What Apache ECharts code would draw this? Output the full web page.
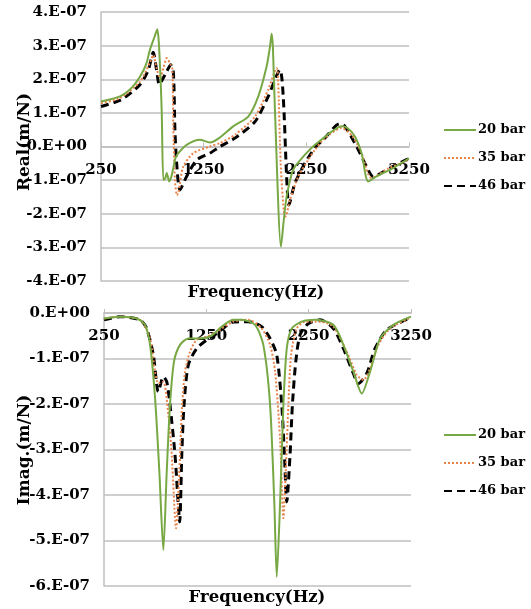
<!DOCTYPE html>
<html>
<head>
<meta charset="utf-8">
<script src="https://cdn.jsdelivr.net/npm/echarts@6/dist/echarts.min.js"></script>
<style>
  html, body { margin: 0; padding: 0; background: #fff; }
  #chart { width: 531px; height: 609px; }
</style>
</head>
<body>
<div id="chart"></div>
<script>
// values are in units of 1E-07 m/N, frequency in Hz
const seriesNames = ['20 bar', '35 bar', '46 bar'];
const freqTicks = [250, 1250, 2250, 3250];

const real20 = [[250,1.34],[435,1.49],[550,1.75],[630,2.08],[690,2.45],[727,2.88],[770,3.25],[798,3.49],[815,3.0],[841,1.09],[857,-0.99],[875,-0.95],[890,-0.79],[915,-1.04],[935,-0.9],[954,-0.64],[975,-0.35],[1003,-0.2],[1084,0.05],[1214,0.2],[1311,0.12],[1400,0.25],[1538,0.6],[1684,0.89],[1782,1.49],[1863,2.38],[1895,2.95],[1912,3.35],[1925,2.9],[1944,1.09],[2003,-2.98],[2030,-2.2],[2058,-1.49],[2122,-0.69],[2220,-0.3],[2334,0.05],[2415,0.25],[2500,0.45],[2594,0.6],[2650,0.55],[2723,0.3],[2788,-0.2],[2853,-1.04],[2934,-0.89],[3096,-0.64],[3250,-0.35]];
const real35 = [[250,1.29],[435,1.44],[630,1.93],[727,2.5],[759,2.72],[790,2.35],[825,2.03],[860,2.35],[890,2.63],[929,2.43],[945,2.3],[955,0.5],[970,-1.0],[990,-1.45],[1005,-1.35],[1051,-0.6],[1149,-0.2],[1311,0.0],[1409,0.1],[1555,0.35],[1750,0.89],[1879,1.69],[1961,2.33],[1975,2.0],[2000,-0.5],[2030,-1.9],[2048,-2.08],[2090,-1.59],[2171,-0.89],[2268,-0.4],[2334,-0.1],[2415,0.2],[2594,0.55],[2700,0.3],[2788,-0.2],[2886,-0.94],[3050,-0.65],[3250,-0.4]];
const real46 = [[250,1.19],[445,1.39],[630,1.84],[711,2.28],[759,2.8],[790,2.3],[818,1.84],[850,2.0],[890,2.23],[929,2.43],[955,2.2],[970,0.5],[987,-0.5],[1019,-1.29],[1084,-0.89],[1182,-0.4],[1311,-0.2],[1409,0],[1555,0.25],[1750,0.74],[1879,1.49],[1993,2.28],[2025,1.49],[2058,-0.89],[2080,-1.74],[2139,-1.09],[2236,-0.5],[2334,-0.04],[2415,0.2],[2577,0.68],[2626,0.6],[2740,0],[2837,-0.6],[2901,-0.89],[3064,-0.64],[3250,-0.35]];

const imag20 = [[250,-0.12],[406,-0.08],[570,-0.12],[651,-0.26],[700,-0.7],[749,-1.87],[791,-3.49],[830,-5.21],[863,-3.49],[895,-2.02],[934,-1.07],[993,-0.7],[1074,-0.56],[1188,-0.56],[1300,-0.5],[1400,-0.3],[1514,-0.15],[1596,-0.15],[1726,-0.26],[1807,-0.7],[1873,-2.02],[1915,-4.22],[1938,-5.8],[1970,-4.22],[2003,-2.02],[2036,-0.78],[2085,-0.34],[2183,-0.19],[2313,-0.15],[2491,-0.26],[2589,-0.7],[2687,-1.29],[2769,-1.77],[2850,-1.29],[2948,-0.56],[3078,-0.26],[3250,-0.08]];
const imag35 = [[250,-0.12],[406,-0.08],[602,-0.15],[700,-0.56],[749,-1.29],[781,-1.55],[830,-1.51],[879,-2.24],[912,-3.12],[954,-4.73],[986,-3.49],[1010,-2.17],[1042,-1.29],[1091,-0.85],[1156,-0.59],[1254,-0.52],[1352,-0.41],[1514,-0.19],[1661,-0.15],[1791,-0.34],[1873,-0.7],[1922,-1.29],[1970,-2.75],[2003,-4.51],[2026,-3.49],[2052,-2.02],[2078,-0.92],[2134,-0.34],[2215,-0.19],[2361,-0.19],[2491,-0.3],[2622,-0.85],[2720,-1.36],[2785,-1.47],[2850,-1.22],[2931,-0.7],[3046,-0.34],[3250,-0.1]];
const imag46 = [[250,-0.15],[406,-0.08],[602,-0.15],[667,-0.34],[732,-0.92],[781,-1.73],[830,-1.4],[863,-1.51],[895,-2.02],[944,-3.12],[976,-4.22],[990,-4.59],[1010,-3.12],[1032,-2.02],[1074,-1.14],[1156,-0.78],[1254,-0.59],[1352,-0.45],[1514,-0.2],[1661,-0.19],[1791,-0.3],[1873,-0.56],[1938,-0.92],[1987,-2.02],[2013,-3.12],[2036,-4.15],[2068,-3.12],[2091,-2.02],[2124,-1.07],[2166,-0.48],[2248,-0.23],[2361,-0.15],[2491,-0.34],[2589,-0.78],[2687,-1.33],[2736,-1.55],[2818,-1.33],[2899,-0.78],[3013,-0.37],[3250,-0.1]];

const FONT = '"DejaVu Serif", "Liberation Serif", serif';
const colors = ['#77a843', '#e8834a', '#000000'];
const lineTypes = ['solid', [2, 2], [8, 5]];
const lineWidths = [2, 2, 3];

// tick label like the excel one: 3.E-07, 0.E+00
function sciLabel(v) {
  const n = Math.round(v);
  if (n === 0) return '0.E+00';
  return n + '.E-07';
}

// x axis sits on the zero line: top of grid moved down by offset
function makeX(gridIndex, offset) {
  return {
    gridIndex: gridIndex,
    type: 'value',
    position: 'top',
    offset: offset,
    min: freqTicks[0],
    max: freqTicks[freqTicks.length - 1],
    interval: 1000,
    axisLine: { onZero: false, lineStyle: { color: '#bfbfbf', width: 1.5 } },
    axisTick: { show: true, inside: false, length: 4, lineStyle: { color: '#bfbfbf' } },
    axisLabel: {
      inside: true,
      color: '#000',
      fontFamily: FONT,
      fontWeight: 'bold',
      fontSize: 15,
      margin: 16,
      formatter: (v) => String(v)
    },
    splitLine: { show: false }
  };
}

function makeY(gridIndex, min, max) {
  return {
    gridIndex: gridIndex,
    type: 'value',
    min: min,
    max: max,
    interval: 1,
    axisLine: { show: true, onZero: false, lineStyle: { color: '#bfbfbf', width: 1.5 } },
    axisTick: { show: false },
    axisLabel: { color: '#000', fontFamily: FONT, fontWeight: 'bold', fontSize: 15, margin: 14, formatter: sciLabel },
    splitLine: { show: true, lineStyle: { color: '#bfbfbf', width: 1.5 } }
  };
}

function makeSeries(name, idx, data, gridIndex) {
  return {
    name: name,
    type: 'line',
    xAxisIndex: gridIndex,
    yAxisIndex: gridIndex,
    data: data,
    symbol: 'none',
    smooth: 0.25,
    z: 5 - idx,
    lineStyle: { color: colors[idx], width: lineWidths[idx], type: lineTypes[idx] },
    itemStyle: { color: colors[idx] }
  };
}

function makeLegend(top) {
  return {
    data: seriesNames,
    orient: 'vertical',
    left: 443,
    top: top,
    padding: 0,
    itemWidth: 32,
    itemHeight: 14,
    itemGap: 14,
    itemStyle: { opacity: 0 },
    textStyle: {
      color: '#000',
      fontFamily: FONT,
      fontWeight: 'bold',
      fontSize: 13,
      lineHeight: 14,
      padding: [0, 0, 0, -3]
    },
    selectedMode: false
  };
}

function axisTitle(text, x, y, rotate, size) {
  return {
    type: 'text',
    x: x,
    y: y,
    rotation: rotate ? Math.PI / 2 : 0,
    style: {
      text: text,
      fill: '#000',
      font: 'bold ' + size + 'px ' + FONT,
      textAlign: 'center',
      textVerticalAlign: 'middle'
    }
  };
}

const chart = echarts.init(document.getElementById('chart'));
chart.setOption({
  backgroundColor: '#fff',
  animation: false,
  grid: [
    { left: 101, top: 12, width: 308, height: 269 },
    { left: 104, top: 313, width: 307, height: 273 }
  ],
  legend: [makeLegend(123), makeLegend(428)],
  xAxis: [makeX(0, -134.5), makeX(1, 0)],
  yAxis: [makeY(0, -4, 4), makeY(1, -6, 0)],
  series: [
    makeSeries(seriesNames[0], 0, real20, 0),
    makeSeries(seriesNames[1], 1, real35, 0),
    makeSeries(seriesNames[2], 2, real46, 0),
    makeSeries(seriesNames[0], 0, imag20, 1),
    makeSeries(seriesNames[1], 1, imag35, 1),
    makeSeries(seriesNames[2], 2, imag46, 1)
  ],
  graphic: [
    axisTitle('Real(m/N)', 25, 142, true, 17),
    axisTitle('Imag.(m/N)', 25, 450, true, 17),
    axisTitle('Frequency(Hz)', 256, 293, false, 16.5),
    axisTitle('Frequency(Hz)', 257, 598, false, 16.5)
  ]
});
</script>
</body>
</html>
